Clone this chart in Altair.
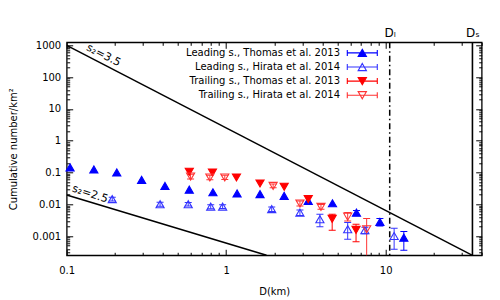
import altair as alt
import pandas as pd

SERIES = ["Leading s., Thomas et al. 2013", "Leading s., Hirata et al. 2014",
          "Trailing s., Thomas et al. 2013", "Trailing s., Hirata et al. 2014"]
COLORS = ["#0000ff", "#3333ff", "#ff0000", "#ff3333"]
FILLS = ["#0000ff", "transparent", "#ff0000", "transparent"]

# Leading side, Thomas et al. 2013 (filled up-triangles)
lt_D = [0.105, 0.148, 0.206, 0.295, 0.413, 0.587, 0.826, 1.17, 1.63, 2.31, 3.27, 4.64, 6.56, 9.2, 13.0]
lt_N = [0.145, 0.125, 0.101, 0.059, 0.038, 0.029, 0.024, 0.022, 0.021, 0.0185, 0.0129, 0.0108, 0.0055, 0.0028, 0.0009]
lt_lo = [None] * 12 + [0.0047, 0.0021, 0.00036]
lt_hi = [None] * 12 + [0.0064, 0.0036, 0.0014]

# Leading side, Hirata et al. 2014 (open up-triangles)
lh_D = [0.193, 0.385, 0.578, 0.80, 0.95, 1.93, 2.90, 3.87, 5.78, 7.41, 11.3]
lh_N = [0.0146, 0.0101, 0.0101, 0.0085, 0.0085, 0.0071, 0.0055, 0.0034, 0.00165, 0.00153, 0.00101]
lh_lo = [0.0127, 0.0087, 0.0088, 0.0073, 0.0074, 0.0060, 0.0045, 0.00197, 0.0008, 0.0012, 0.000386]
lh_hi = [0.0167, 0.0116, 0.0115, 0.0098, 0.0097, 0.0083, 0.0066, 0.0049, 0.00267, 0.0019, 0.00177]

# Trailing side, Thomas et al. 2013 (filled down-triangles)
tt_D = [0.587, 0.82, 1.16, 1.63, 2.31, 3.27, 4.62, 6.52]
tt_N = [0.106, 0.100, 0.070, 0.0453, 0.0357, 0.0146, 0.0035, 0.00157]
tt_lo = [None] * 6 + [0.00153, 0.00067]
tt_hi = [None] * 6 + [0.0049, 0.00237]

# Trailing side, Hirata et al. 2014 (open down-triangles)
th_D = [0.598, 0.79, 0.98, 1.97, 2.90, 3.93, 5.78, 7.6]
th_N = [0.075, 0.070, 0.070, 0.038, 0.0106, 0.0083, 0.0041, 0.00165]
th_lo = [0.063, 0.059, 0.060, 0.033, 0.0089, 0.0070, 0.0030, 0.000001]
th_hi = [0.089, 0.083, 0.082, 0.044, 0.0127, 0.0099, 0.0055, 0.0036]

# Reference power laws (endpoints)
s35_D = [0.1, 35.0]
s35_N = [1000.0, 0.00025]
s25_D = [0.1, 1.79]
s25_N = [0.0198, 0.00025]
s_labels = ["s₂=3.5", "s₂=2.5"]
s_label_D = [0.17, 0.14]
s_label_N = [480.0, 0.021]

D_l = 10.6
D_s = 35.0

major_x = [0.1, 1, 10]
minor_x = [k * 0.1 for k in range(2, 10)] + list(range(2, 10)) + [20, 30, 40]
major_y = [0.001, 0.01, 0.1, 1, 10, 100, 1000]
minor_y = [k * 10.0 ** e for e in range(-4, 4) for k in range(2, 10) if 0.00025 <= k * 10.0 ** e <= 1250]

rows = []
for name, Ds, Ns, los, his in [(SERIES[0], lt_D, lt_N, lt_lo, lt_hi), (SERIES[1], lh_D, lh_N, lh_lo, lh_hi),
                               (SERIES[2], tt_D, tt_N, tt_lo, tt_hi), (SERIES[3], th_D, th_N, th_lo, th_hi)]:
    for d, n, lo, hi in zip(Ds, Ns, los, his):
        rows.append({"series": name, "D": d, "N": n, "lo": lo, "hi": hi})
pts = pd.DataFrame(rows)
err = pts.dropna(subset=["lo"]).reset_index(drop=True)

W, H = 415, 213
xs = alt.Scale(type="log", domain=[0.1, 40], nice=False)
ys = alt.Scale(type="log", domain=[0.00025, 1250], nice=False)


def tick_axis(orient, offset, values, size):
    return alt.Axis(orient=orient, offset=offset, values=values, labels=False, ticks=True,
                    tickSize=size, domain=False, grid=False, title=None)


ax_lab_x = alt.Axis(orient="bottom", values=major_x, ticks=False, labelPadding=10, format="~g",
                    title="D(km)", titleY=36, titleBaseline="middle", labelFlush=False)
ax_lab_y = alt.Axis(orient="left", values=major_y, ticks=False, labelPadding=6, format="~g",
                    title="Cumulative number/km²", titleX=-53, titleY=H / 2, titleAngle=-90,
                    titleBaseline="middle", titleAlign="center")

s35 = alt.Chart(pd.DataFrame({"D": s35_D, "N": s35_N})).mark_line(color="black", strokeWidth=1.5, clip=True).encode(
    x=alt.X("D:Q", scale=xs, axis=ax_lab_x), y=alt.Y("N:Q", scale=ys, axis=ax_lab_y))
s25 = alt.Chart(pd.DataFrame({"D": s25_D, "N": s25_N})).mark_line(color="black", strokeWidth=1.5, clip=True).encode(
    x=alt.X("D:Q", scale=xs, axis=tick_axis("top", -H, major_x, 6)),
    y=alt.Y("N:Q", scale=ys, axis=tick_axis("right", -W, major_y, 6)))

slab = alt.Chart(pd.DataFrame({"D": s_label_D, "N": s_label_N, "t": s_labels, "a": [27, 17]}))
slab1 = slab.transform_filter("datum.a == 27").mark_text(angle=27, font="DejaVu Sans", fontSize=11, color="black").encode(
    x=alt.X("D:Q", scale=xs, axis=None), y=alt.Y("N:Q", scale=ys, axis=None), text="t:N")
slab2 = slab.transform_filter("datum.a == 17").mark_text(angle=18, font="DejaVu Sans", fontSize=11, color="black").encode(
    x=alt.X("D:Q", scale=xs, axis=None), y=alt.Y("N:Q", scale=ys, axis=None), text="t:N")

dl = alt.Chart(pd.DataFrame({"D": [D_l]})).mark_rule(color="black", strokeWidth=1.5, strokeDash=[6, 3, 1.5, 3]).encode(
    x=alt.X("D:Q", scale=xs, axis=alt.Axis(orient="top", values=[D_l, D_s], ticks=False, labelPadding=3,
                                           labelExpr="datum.value < 20 ? 'Dₗ' : 'Dₛ'", labelFontSize=12,
                                           labelFlush=False, title=None)))
ds = alt.Chart(pd.DataFrame({"D": [D_s]})).mark_rule(color="black", strokeWidth=1.6).encode(
    x=alt.X("D:Q", scale=xs, axis=None))

cscale = alt.Scale(domain=SERIES, range=COLORS)
eb = alt.Chart(err).mark_rule(strokeWidth=1, clip=True).encode(
    x=alt.X("D:Q", scale=xs, axis=None), y=alt.Y("lo:Q", scale=ys, axis=None), y2="hi:Q",
    color=alt.Color("series:N", scale=cscale, legend=None))
cap_lo = alt.Chart(err).mark_tick(orient="horizontal", size=7, thickness=1, clip=True, opacity=1).encode(
    x=alt.X("D:Q", scale=xs, axis=None), y=alt.Y("lo:Q", scale=ys, axis=None),
    color=alt.Color("series:N", scale=cscale, legend=None))
cap_hi = alt.Chart(err).mark_tick(orient="horizontal", size=7, thickness=1, clip=True, opacity=1).encode(
    x=alt.X("D:Q", scale=xs, axis=None), y=alt.Y("hi:Q", scale=ys, axis=None),
    color=alt.Color("series:N", scale=cscale, legend=None))


def pts_layer(i, shape, filled, axx, axy):
    return alt.Chart(pts).transform_filter(alt.datum.series == SERIES[i]).mark_point(
        shape=shape, size=66, stroke=COLORS[i], fill=FILLS[i], strokeWidth=1.1, opacity=1).encode(
        x=alt.X("D:Q", scale=xs, axis=axx), y=alt.Y("N:Q", scale=ys, axis=axy))


p_lt = pts_layer(0, "triangle-up", True, tick_axis("bottom", -H, major_x, 6), tick_axis("left", -W, major_y, 6))
p_lh = pts_layer(1, "triangle-up", False, tick_axis("top", -H, minor_x, 3), tick_axis("right", -W, minor_y, 3))
p_tt = pts_layer(2, "triangle-down", True, tick_axis("bottom", -H, minor_x, 3), tick_axis("left", -W, minor_y, 3))
p_th = pts_layer(3, "triangle-down", False, None, None)

# key (inside the plot, top right): label right-aligned, then an error-bar + marker sample
UP = "M-3,0H3M-3,-0.6V0.6M3,-0.6V0.6M0,-0.72L0.83,0.72L-0.83,0.72Z"
DOWN = "M-3,0H3M-3,-0.6V0.6M3,-0.6V0.6M0,0.72L0.83,-0.72L-0.83,-0.72Z"
KEY_SHAPES = [UP, UP, DOWN, DOWN]
KEY_TEXT_X, KEY_SYM_X, KEY_Y0, KEY_DY = 273.3, 295.6, 10.6, 14.1
key_layers = []
for i, name in enumerate(SERIES):
    one = alt.Chart(pd.DataFrame({"t": [name]}))
    yy = KEY_Y0 + KEY_DY * i
    key_layers.append(one.mark_text(align="right", baseline="middle", font="DejaVu Sans", fontSize=10,
                                    color="black").encode(x=alt.value(KEY_TEXT_X), y=alt.value(yy), text="t:N"))
    key_layers.append(one.mark_point(shape=KEY_SHAPES[i], size=100, stroke=COLORS[i], fill=FILLS[i],
                                     strokeWidth=1.1, opacity=1).encode(x=alt.value(KEY_SYM_X), y=alt.value(yy)))

chart = alt.layer(s35, s25, slab1, slab2, dl, ds, eb, cap_lo, cap_hi, p_lt, p_lh, p_tt, p_th, *key_layers).resolve_axis(
    x="independent", y="independent").properties(
    width=W, height=H, autosize=alt.AutoSizeParams(type="none"),
    padding={"left": 58.7, "top": 34.3, "right": 10, "bottom": 44}
).configure_view(stroke="black", strokeWidth=1.3).configure_axis(
    grid=False, domain=False, labelFont="DejaVu Sans", labelFontSize=10, labelColor="black",
    tickColor="black", tickWidth=1, titleFont="DejaVu Sans", titleFontSize=10, titleFontWeight="normal",
    titleColor="black", labelFlush=False)

chart.save("out.html", embed_options={"renderer": "svg", "actions": False})
